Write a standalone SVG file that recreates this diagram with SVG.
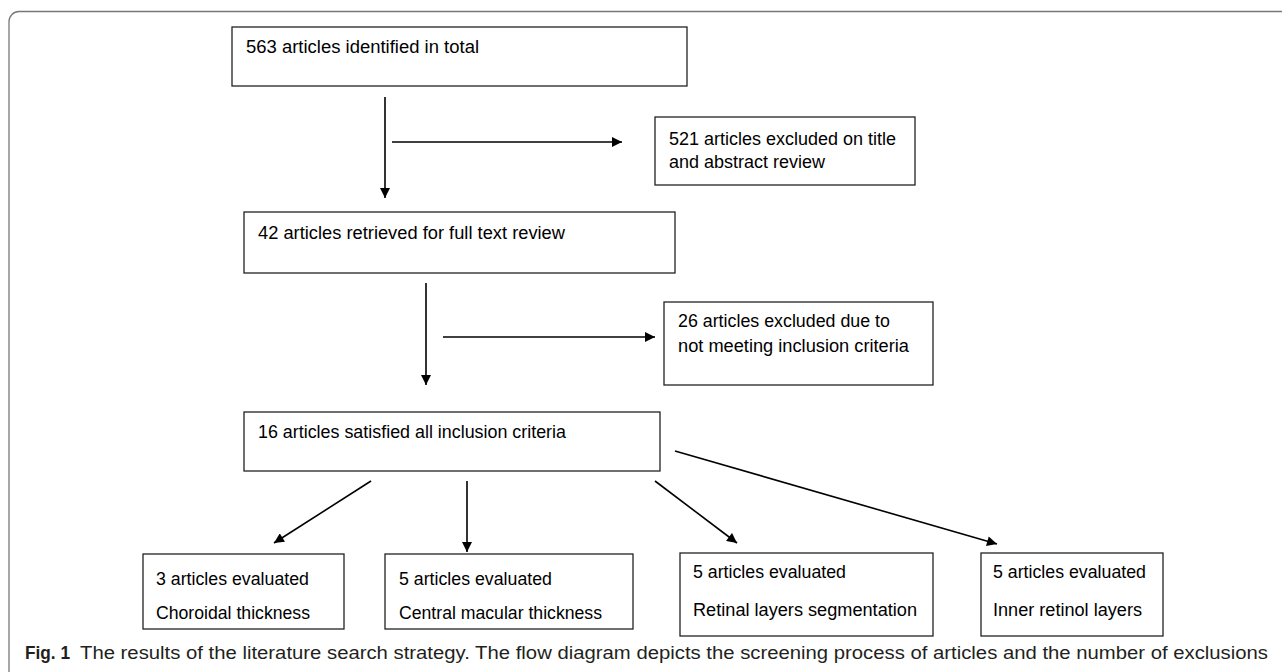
<svg xmlns="http://www.w3.org/2000/svg" width="1282" height="672" viewBox="0 0 1282 672">
<defs>
<marker id="ah" viewBox="0 0 10 10" refX="10" refY="5" markerWidth="11" markerHeight="10" markerUnits="userSpaceOnUse" orient="auto">
<path d="M0,0 L10,5 L0,10 z" fill="#000"/>
</marker>
<style>
.box{fill:#fff;stroke:#222;stroke-width:1.3}
.t{font-family:"Liberation Sans",Arial,sans-serif;font-size:17.5px;fill:#000}
.c{stroke:#000;stroke-width:1.6;fill:none;marker-end:url(#ah)}
.cap{font-family:"Liberation Sans",Arial,sans-serif;font-size:17.5px;fill:#231f20}
</style>
</defs>
<rect x="9" y="11.5" width="1290" height="720" rx="10" fill="none" stroke="#777" stroke-width="1.3"/>
<g id="n1"><rect class="box" x="232" y="27" width="455" height="59"/><text class="t" x="246" y="53" textLength="233" lengthAdjust="spacingAndGlyphs">563 articles identified in total</text></g>
<g id="n2"><rect class="box" x="655" y="117" width="260" height="68"/><text class="t" x="669" y="145" textLength="227" lengthAdjust="spacingAndGlyphs">521 articles excluded on title</text><text class="t" x="669" y="168" textLength="156" lengthAdjust="spacingAndGlyphs">and abstract review</text></g>
<g id="n3"><rect class="box" x="244" y="212" width="431" height="61"/><text class="t" x="258" y="239" textLength="307" lengthAdjust="spacingAndGlyphs">42 articles retrieved for full text review</text></g>
<g id="n4"><rect class="box" x="664" y="302" width="269" height="83"/><text class="t" x="678" y="327" textLength="212" lengthAdjust="spacingAndGlyphs">26 articles excluded due to</text><text class="t" x="678" y="352" textLength="231" lengthAdjust="spacingAndGlyphs">not meeting inclusion criteria</text></g>
<g id="n5"><rect class="box" x="244" y="412" width="416" height="59"/><text class="t" x="258" y="438" textLength="308" lengthAdjust="spacingAndGlyphs">16 articles satisfied all inclusion criteria</text></g>
<g id="n6"><rect class="box" x="143" y="554" width="201" height="75"/><text class="t" x="156" y="585" textLength="153" lengthAdjust="spacingAndGlyphs">3 articles evaluated</text><text class="t" x="156" y="619" textLength="154" lengthAdjust="spacingAndGlyphs">Choroidal thickness</text></g>
<g id="n7"><rect class="box" x="385" y="554" width="248" height="75"/><text class="t" x="399" y="585" textLength="153" lengthAdjust="spacingAndGlyphs">5 articles evaluated</text><text class="t" x="399" y="619" textLength="203" lengthAdjust="spacingAndGlyphs">Central macular thickness</text></g>
<g id="n8"><rect class="box" x="680" y="553" width="253" height="83"/><text class="t" x="693" y="578" textLength="153" lengthAdjust="spacingAndGlyphs">5 articles evaluated</text><text class="t" x="693" y="616" textLength="224" lengthAdjust="spacingAndGlyphs">Retinal layers  segmentation</text></g>
<g id="n9"><rect class="box" x="981" y="553" width="182" height="83"/><text class="t" x="993" y="578" textLength="153" lengthAdjust="spacingAndGlyphs">5 articles evaluated</text><text class="t" x="993" y="616" textLength="149" lengthAdjust="spacingAndGlyphs">Inner retinol layers</text></g>
<g id="connectors">
<line class="c" x1="385" y1="97" x2="385" y2="198"/>
<line class="c" x1="392" y1="142" x2="622" y2="142"/>
<line class="c" x1="426" y1="283" x2="426" y2="385"/>
<line class="c" x1="443" y1="337" x2="655" y2="337"/>
<line class="c" x1="371" y1="481" x2="274" y2="543"/>
<line class="c" x1="467" y1="481" x2="467" y2="552"/>
<line class="c" x1="655" y1="481" x2="737" y2="543"/>
<line class="c" x1="675" y1="451" x2="997" y2="544"/>
</g>
<text class="cap" x="25" y="659" font-weight="bold" textLength="45" lengthAdjust="spacingAndGlyphs">Fig. 1</text>
<text class="cap" x="80" y="659" textLength="1188" lengthAdjust="spacingAndGlyphs">The results of the literature search strategy. The flow diagram depicts the screening process of articles and the number of exclusions</text>
</svg>
